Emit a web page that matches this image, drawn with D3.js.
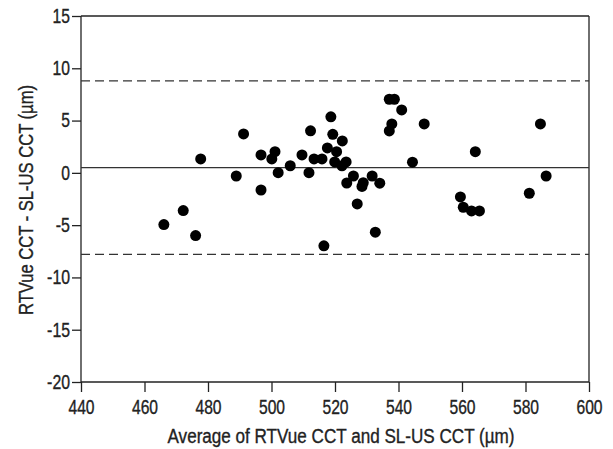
<!DOCTYPE html>
<html><head><meta charset="utf-8">
<script src="https://cdn.jsdelivr.net/npm/d3@7"></script>
<style>body{margin:0;background:#fff}svg{display:block}</style>
</head><body>
<script>
const avgValues = [477.7,491.2,488.9,496.7,496.7,501.1,500.1,502.1,505.9,509.6,511.8,512.3,472.2,466.1,476.1,516.5,532.7,513.4,515.9,518.7,519.3,522.3,517.6,520.5,519.9,522.2,523.5,525.8,523.7,528.5,528.9,527.0,531.7,534.1,537.1,538.7,541.0,537.9,537.1,548.1,544.4,564.2,559.5,560.4,563.0,565.5,584.7,586.5,581.2];
const diffValues = [1.33,3.72,-0.30,1.71,-1.64,2.03,1.33,0.02,0.68,1.71,0.02,4.02,-3.61,-4.95,-6.0,-6.98,-5.67,1.33,1.33,5.36,3.69,3.05,2.38,2.03,1.04,0.68,1.04,-0.30,-0.97,-1.30,-0.94,-2.97,-0.30,-0.99,7.04,7.04,6.02,4.68,4.01,4.68,1.02,2.03,-2.30,-3.29,-3.64,-3.64,4.68,-0.30,-1.95];
const meanDiff = 0.5;
const upperLoA = 8.8;
const lowerLoA = -7.8;
const xTicks = [440,460,480,500,520,540,560,580,600];
const yTicks = [-20,-15,-10,-5,0,5,10,15];
const xTitle = "Average of RTVue CCT and SL-US CCT (\u00b5m)";
const yTitle = "RTVue CCT - SL-US CCT (\u00b5m)";

const W = 613, H = 449;
const L = 81, R = 589, T = 16, B = 382;
const font = "'Liberation Sans',Arial,sans-serif";
const ink = "#222";

const svg = d3.select("body").append("svg").attr("width", W).attr("height", H);
const x = d3.scaleLinear().domain([440, 600]).range([L, R]);
const y = d3.scaleLinear().domain([-20, 15]).range([B, T]);

// frame top & right
svg.append("line").attr("x1", L).attr("x2", R).attr("y1", T).attr("y2", T).attr("stroke", ink).attr("stroke-width", 1.3);
svg.append("line").attr("x1", R).attr("x2", R).attr("y1", T).attr("y2", B).attr("stroke", ink).attr("stroke-width", 1.3);

const fmt = d => String(d);
const labelLen = s => s.replace(/-/g, "").length * 8.7 + (s.match(/-/g) || []).length * 5.5;
const xAxis = svg.append("g").attr("transform", `translate(0,${B})`)
  .call(d3.axisBottom(x).tickValues(xTicks).tickSize(10).tickPadding(8).tickFormat(fmt));
const yAxis = svg.append("g").attr("transform", `translate(${L},0)`)
  .call(d3.axisLeft(y).tickValues(yTicks).tickSize(9).tickPadding(2).tickFormat(fmt));
[xAxis, yAxis].forEach(g => {
  g.select(".domain").attr("stroke", ink).attr("stroke-width", 1.3);
  g.selectAll(".tick line").attr("stroke", ink).attr("stroke-width", 1.3);
  g.selectAll(".tick text").attr("fill", ink).attr("stroke", ink).attr("stroke-width", 0.35)
    .style("font-family", font).style("font-size", "20px")
    .attr("textLength", function() { return labelLen(this.textContent); })
    .attr("lengthAdjust", "spacingAndGlyphs");
});
xAxis.select(".domain").attr("d", `M${L},0H${R}`);
yAxis.select(".domain").attr("d", `M0,${T}V${B}`);

// reference lines
svg.append("line").attr("x1", L).attr("x2", R).attr("y1", y(meanDiff)).attr("y2", y(meanDiff))
  .attr("stroke", "#333").attr("stroke-width", 1.3);
[upperLoA, lowerLoA].forEach(v => {
  svg.append("line").attr("x1", L).attr("x2", R).attr("y1", y(v)).attr("y2", y(v))
    .attr("stroke", "#333").attr("stroke-width", 1.3).attr("stroke-dasharray", "9,5");
});

// points
svg.append("g").selectAll("circle").data(avgValues.map((a, i) => [a, diffValues[i]])).join("circle")
  .attr("cx", d => x(d[0])).attr("cy", d => y(d[1])).attr("r", 5.5).attr("fill", "#000");

// titles
svg.append("text").attr("x", 341).attr("y", 443).attr("text-anchor", "middle")
  .style("font-family", font).style("font-size", "20px").attr("stroke", ink).attr("stroke-width", 0.35)
  .attr("textLength", 347).attr("lengthAdjust", "spacingAndGlyphs").attr("fill", ink).text(xTitle);
svg.append("text").attr("transform", `translate(33,200) rotate(-90)`).attr("text-anchor", "middle")
  .style("font-family", font).style("font-size", "20px").attr("stroke", ink).attr("stroke-width", 0.35)
  .attr("textLength", 230).attr("lengthAdjust", "spacingAndGlyphs").attr("fill", ink).text(yTitle);
</script>
</body></html>
